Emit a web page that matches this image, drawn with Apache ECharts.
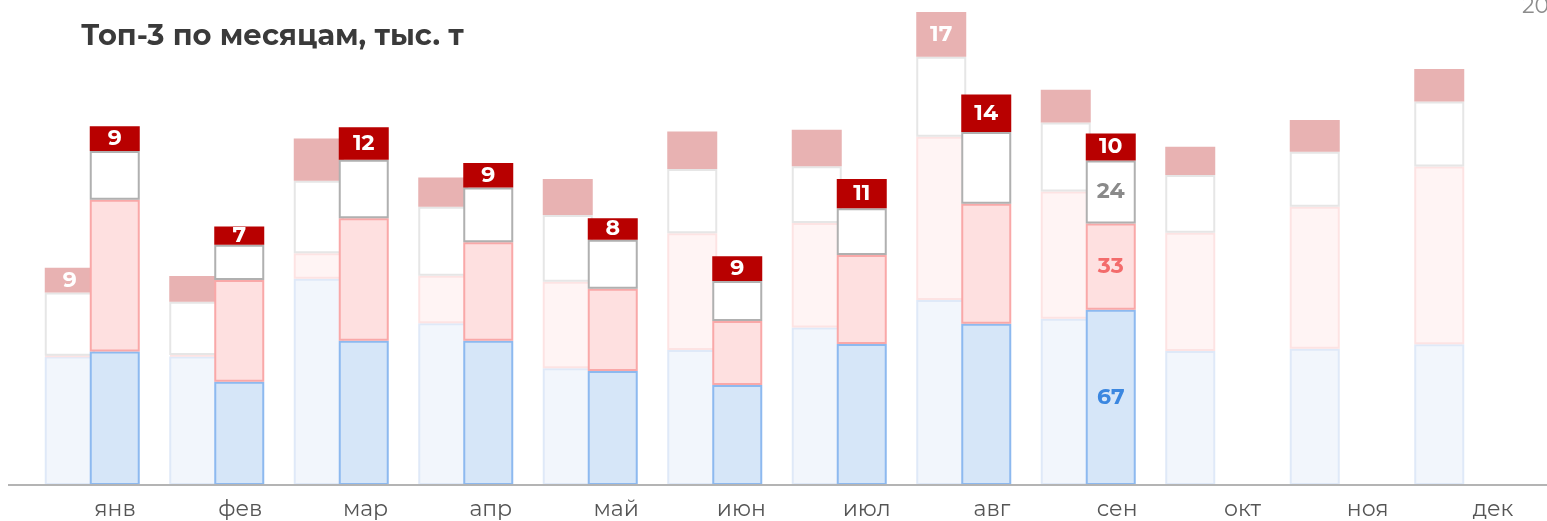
<!DOCTYPE html>
<html>
<head>
<meta charset="utf-8">
<script src="https://cdn.jsdelivr.net/npm/echarts@6/dist/echarts.min.js"></script>
<style>
  html, body { margin: 0; padding: 0; background: #fff; }
  #chart { width: 1547px; height: 521px; }
</style>
</head>
<body>
<div id="chart"></div>
<script>
// месяцы
var months = ['янв', 'фев', 'мар', 'апр', 'май', 'июн', 'июл', 'авг', 'сен', 'окт', 'ноя', 'дек'];

// прошлый год (бледные столбцы), тыс. т
var prevBlue = [49.1, 49.1, 78.8, 61.8, 44.6, 51.6, 60.2, 70.7, 63.5, 51.2, 52.1, 53.8];
var prevPink = [0.3, 0.6, 9.8, 18.2, 33.1, 44.6, 39.9, 62.4, 48.7, 45.2, 54.3, 67.9];
var prevGray = [24.2, 20.3, 27.7, 26.4, 25.5, 24.6, 21.7, 30.6, 26.4, 22.1, 21.0, 24.9];
var prevRed  = [9.4, 9.9, 16.1, 11.1, 13.8, 14.3, 14.0, 17.1, 12.5, 10.8, 12.1, 12.4];
var prevRedLabeled = ['янв', 'авг'];

// текущий год
var curBlue = [51.0, 39.5, 55.1, 55.1, 43.6, 38.2, 53.9, 61.6, 67, '-', '-', '-'];
var curPink = [58.0, 38.9, 46.9, 37.7, 31.4, 24.5, 34.0, 45.9, 33, '-', '-', '-'];
var curGray = [18.7, 13.4, 22.3, 20.9, 18.7, 15.3, 17.9, 27.4, 24, '-', '-', '-'];
var curRed  = [9.4, 7.0, 12.4, 9.4, 8.3, 9.4, 11.2, 14.4, 10.4, '-', '-', '-'];
var lastMonth = 'сен'; // у последнего месяца подписаны все сегменты

var FONT = "Montserrat, 'Noto Sans', 'Open Sans', sans-serif";

function lbl(color, show) {
  return {
    show: show,
    position: 'inside',
    color: color,
    fontFamily: FONT,
    fontWeight: 'bold',
    fontSize: 22,
    formatter: function (p) { return Math.round(p.value); }
  };
}

// сегмент стопки; подписи включаются по списку месяцев
function seg(name, stack, data, fill, border, labelColor, labeledMonths) {
  return {
    name: name,
    type: 'bar',
    stack: stack,
    barWidth: 50,
    barGap: '-10%',
    itemStyle: { color: fill, borderColor: border, borderWidth: 2 },
    data: data.map(function (v, i) {
      var on = labeledMonths.indexOf(months[i]) >= 0;
      return { value: v, label: lbl(labelColor, on) };
    })
  };
}

var chart = echarts.init(document.getElementById('chart'));

var option = {
  animation: false,
  title: {
    text: 'Топ-3 по месяцам, тыс. т',
    left: 76,
    top: 17,
    textStyle: { fontFamily: FONT, fontWeight: 'bold', fontSize: 29, color: '#3a3a3a' }
  },
  graphic: [
    { type: 'line', shape: { x1: 8, y1: 485, x2: 1547, y2: 485 }, style: { stroke: '#b4b4b4', lineWidth: 2 }, z: 10 },
    { type: 'text', left: 1522, top: -4, style: { text: '2024', fill: '#8c8c8c', fontSize: 22, fontFamily: FONT } }
  ],
  grid: [
    { left: 30, right: 23, top: 1, bottom: 36 },
    { left: 115, right: 54, top: 1, bottom: 36 }
  ],
  xAxis: [
    {
      type: 'category', gridIndex: 0, data: months,
      axisLine: { show: false }, axisTick: { show: false }, axisLabel: { show: false }
    },
    {
      type: 'category', gridIndex: 1, data: months, boundaryGap: false,
      axisLine: { show: false }, axisTick: { show: false },
      axisLabel: { margin: 14, fontSize: 22, color: '#555', fontFamily: FONT }
    }
  ],
  yAxis: [
    { type: 'value', gridIndex: 0, min: 0, max: 185, show: false },
    { type: 'value', gridIndex: 1, min: 0, max: 185, show: false }
  ],
  series: [
    seg('prevBlue', 'prev', prevBlue, '#f2f6fc', '#dfe9f8', '#3b87e0', []),
    seg('prevPink', 'prev', prevPink, '#fff4f4', '#fde3e3', '#f36b6b', []),
    seg('prevGray', 'prev', prevGray, '#ffffff', '#e6e6e6', '#8a8a8a', []),
    seg('prevRed', 'prev', prevRed, '#e8b2b2', '#e8b2b2', '#ffffff', prevRedLabeled),
    seg('curBlue', 'cur', curBlue, '#d6e6f8', '#8db9ef', '#3b87e0', [lastMonth]),
    seg('curPink', 'cur', curPink, '#fee0e0', '#f9a8a8', '#f36b6b', [lastMonth]),
    seg('curGray', 'cur', curGray, '#ffffff', '#b0b0b0', '#8a8a8a', [lastMonth]),
    seg('curRed', 'cur', curRed, '#b80000', '#b80000', '#ffffff', months)
  ]
};

chart.setOption(option);
</script>
</body>
</html>
